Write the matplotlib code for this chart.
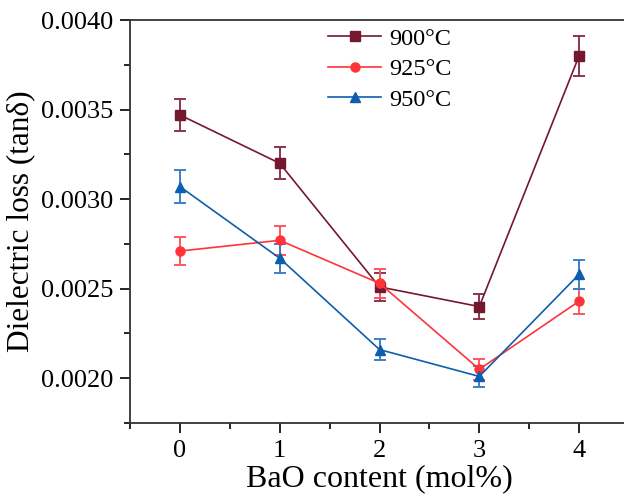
import numpy as np
import matplotlib
matplotlib.use("Agg")
import matplotlib.pyplot as plt
from matplotlib.ticker import MultipleLocator, FormatStrFormatter

# ── Data ──────────────────────────────────────────────
bao = [0, 1, 2, 3, 4]
loss_900 = [0.00347, 0.00320, 0.00251, 0.00240, 0.00380]
err_900 = [0.00009, 0.00009, 0.00008, 0.00007, 0.00011]
loss_925 = [0.00271, 0.00277, 0.00253, 0.00205, 0.00243]
err_925 = [0.00008, 0.00008, 0.00008, 0.00006, 0.00007]
loss_950 = [0.00307, 0.00267, 0.00216, 0.00201, 0.00258]
err_950 = [0.00009, 0.00008, 0.00006, 0.00006, 0.00008]
labels = ["900\u00b0C", "925\u00b0C", "950\u00b0C"]

C900 = "#741830"
C925 = "#FF3338"
C950 = "#0D5EAF"

plt.rcParams.update({
    "font.family": "Liberation Serif",
    "mathtext.fontset": "stix",
})

fig = plt.figure(figsize=(6.24, 4.94), dpi=100)
ax = fig.add_axes([130 / 624, 1 - 423 / 494, 499 / 624, 403 / 494])

series = [
    (loss_900, err_900, C900, "s", "#8A3550"),
    (loss_925, err_925, C925, "o", "#FF5560"),
    (loss_950, err_950, C950, "^", "#3A80C8"),
]
handles = []
for (vals, errs, col, mk, ecol), lab in zip(series, labels):
    eb = ax.errorbar(bao, vals, yerr=errs, color=col, marker=mk, markersize=6.5,
                     linewidth=1.2, ecolor=ecol, elinewidth=1.4, capsize=4,
                     capthick=1.4, label=lab)
    handles.append(eb.lines[0])  # line + marker only in legend

ax.set_xlim(-0.5, 4.5)
ax.set_ylim(0.00175, 0.0040)
ax.xaxis.set_major_locator(MultipleLocator(1))
ax.xaxis.set_minor_locator(MultipleLocator(0.5))
ax.yaxis.set_major_locator(MultipleLocator(0.0005))
ax.yaxis.set_minor_locator(MultipleLocator(0.00025))
ax.yaxis.set_major_formatter(FormatStrFormatter("%.4f"))

ax.tick_params(axis="both", which="both", direction="out", labelsize=19,
               top=False, right=False, width=1.2)
ax.tick_params(which="major", length=7, pad=5)
ax.tick_params(which="minor", length=4)
for sp in ax.spines.values():
    sp.set_linewidth(1.3)
    sp.set_color("#333333")

ax.set_xlabel("BaO content (mol%)", fontsize=23, labelpad=2)
ax.set_ylabel("Dielectric loss (tan\u03b4)", fontsize=22.5, labelpad=4)

ax.legend(handles, labels, loc="upper left", bbox_to_anchor=(0.353, 1.035),
          frameon=False, fontsize=17.5, handlelength=2.2, handletextpad=0.3,
          labelspacing=0.35)

fig.savefig("out.png", dpi=100)
